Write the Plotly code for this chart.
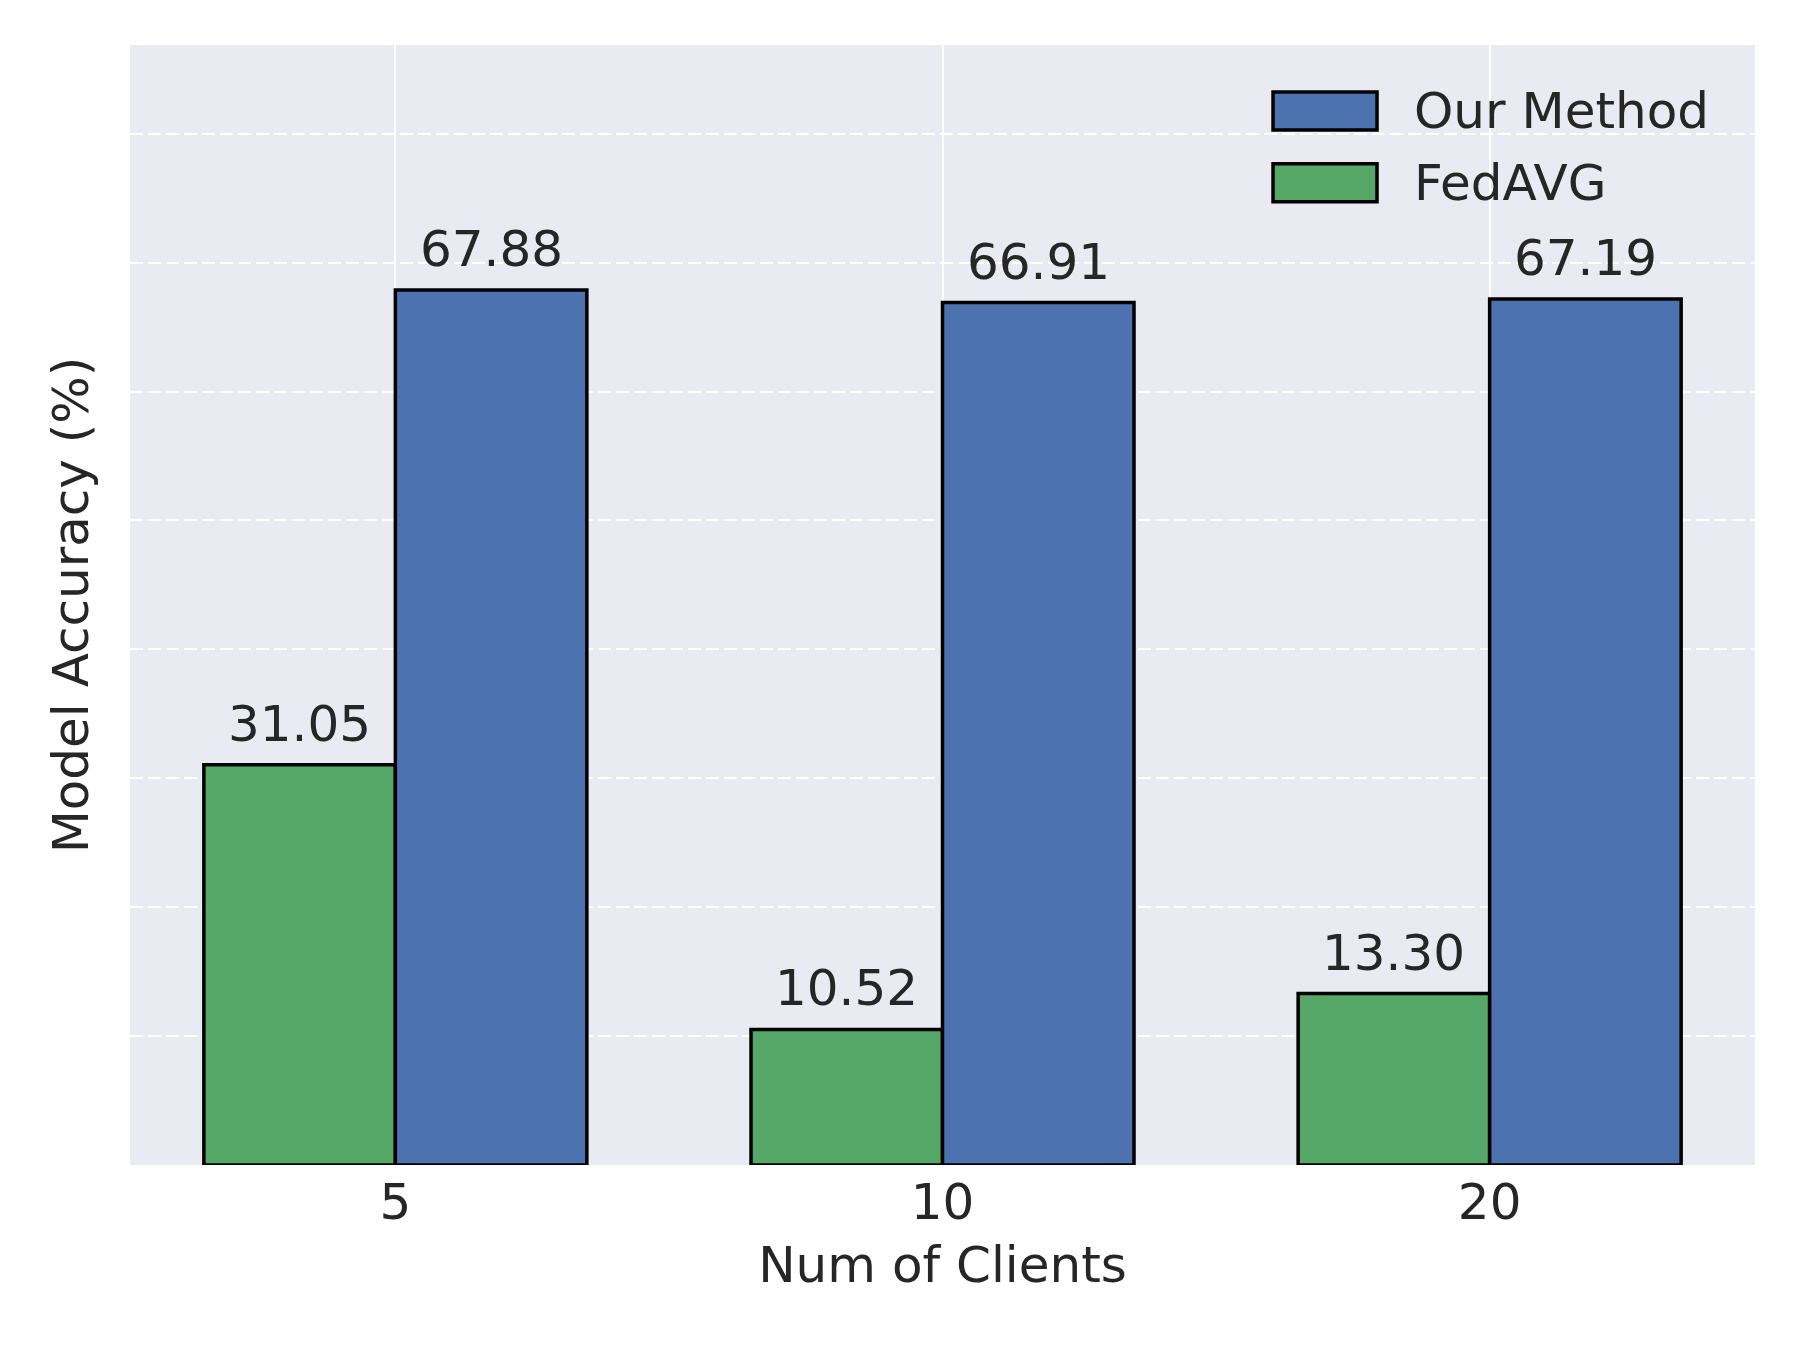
import plotly.graph_objects as go

# data
clients = ["5", "10", "20"]
fedavg = [31.05, 10.52, 13.30]
our_method = [67.88, 66.91, 67.19]
y_grid = [0, 10, 20, 30, 40, 50, 60, 70, 80]

series = [("FedAVG", fedavg, "#55A868"), ("Our Method", our_method, "#4C72B0")]
bar_w = 0.35
txt = "#262626"
font_family = "DejaVu Sans"

pos = list(range(len(clients)))

fig = go.Figure()
for k, (name, vals, col) in enumerate(series):
    off = (k - 0.5) * bar_w
    fig.add_trace(go.Bar(
        x=[p + off for p in pos], y=vals, width=bar_w, name=name,
        marker=dict(color=col, line=dict(color="black", width=3.5)),
        showlegend=False,
    ))
    for p, v in zip(pos, vals):
        fig.add_annotation(x=p + off, y=v, text=f"{v:.2f}", showarrow=False,
                           yanchor="bottom", yshift=10,
                           font=dict(size=50, color=txt, family=font_family))

# legend drawn like matplotlib's (large patches), Our Method on top
legend_rows = [("Our Method", "#4C72B0", 0.958, 0.924), ("FedAVG", "#55A868", 0.894, 0.860)]
for name, col, ytop, ybot in legend_rows:
    fig.add_shape(type="rect", xref="paper", yref="paper",
                  x0=0.7034, x1=0.7674, y0=ybot, y1=ytop,
                  fillcolor=col, line=dict(color="black", width=3.5))
    fig.add_annotation(xref="paper", yref="paper", x=0.789, y=(ytop + ybot) / 2,
                       text=name, showarrow=False, xanchor="left", yanchor="middle",
                       font=dict(size=50, color=txt, family=font_family))

ymax = max(our_method) * 1.28

# page body adds an 8px offset, so margins are shifted to compensate
fig.update_layout(
    width=1800, height=1350,
    margin=dict(l=122, r=53, t=37, b=193),
    paper_bgcolor="white", plot_bgcolor="#EAEAF2",
    font=dict(family=font_family, size=50, color=txt),
    barmode="overlay",
)
fig.update_xaxes(
    range=[-0.485, 2.485], tickvals=pos, ticktext=clients,
    showgrid=True, gridcolor="white", gridwidth=2,
    zeroline=False, showline=False, ticks="", ticklabelstandoff=3,
    tickfont=dict(size=50, color=txt),
    title=dict(text="Num of Clients", font=dict(size=50, color=txt), standoff=16),
)
fig.update_yaxes(
    range=[0, ymax], tickvals=y_grid, showticklabels=False,
    showgrid=True, gridcolor="white", gridwidth=2, griddash="13px,5px",
    zeroline=False, showline=False, ticks="",
    title=dict(text="Model Accuracy (%)", font=dict(size=50, color=txt), standoff=24),
)

fig.write_html("out.html")
